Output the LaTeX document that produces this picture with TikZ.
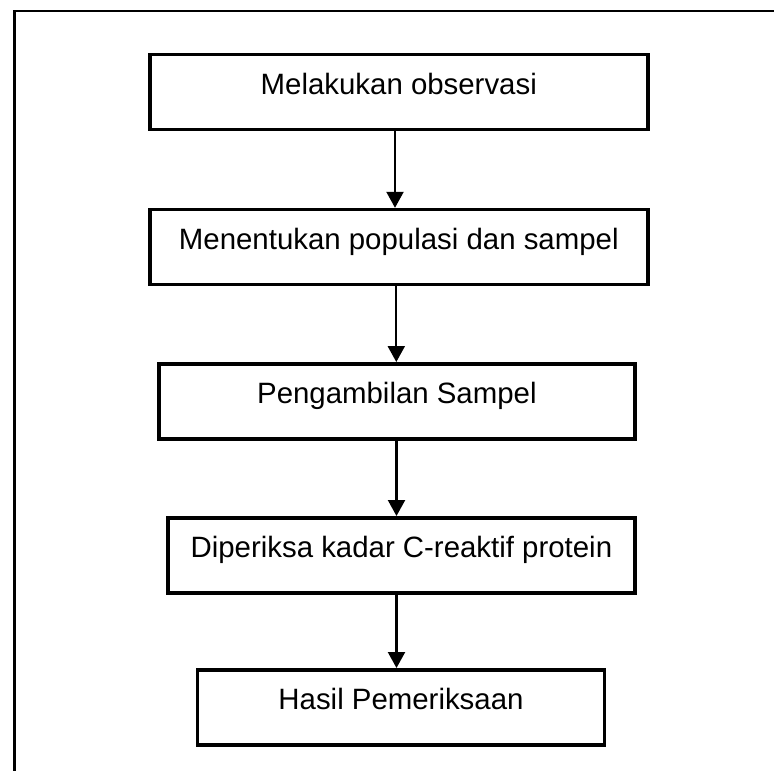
\documentclass[tikz,border=0pt]{standalone}
\usepackage{fontspec}
\setmainfont{Liberation Sans}
\usetikzlibrary{arrows.meta}
\begin{document}
\begin{tikzpicture}[x=1pt,y=-1pt,
  stepbox/.style={draw, line width=3.6pt, inner sep=0pt, text height=40pt, text depth=35pt,
    anchor=north, font=\fontsize{29.4}{35}\selectfont},
  arr/.style={line width=2.2pt, -{Triangle[width=17pt,length=16pt]}},
  frame/.style={line width=2.2pt}]
\useasboundingbox (0,0) rectangle (774,771);
\fill[white] (0,0) rectangle (774,771);
\coordinate (ftop) at (774,11);
\coordinate (fcorner) at (14.5,11);
\coordinate (fbot) at (14.5,771);
\draw[frame] (fbot) -- (fcorner) -- (ftop);
\node[stepbox, minimum width=498pt] (b1) at (398.8,52.8) {Melakukan observasi};
\node[stepbox, minimum width=498pt] (b2) at (398.8,207.8) {Menentukan populasi dan sampel};
\node[stepbox, minimum width=476pt] (b3) at (396.9,362) {Pengambilan Sampel};
\node[stepbox, minimum width=467pt] (b4) at (401.4,516) {Diperiksa kadar C-reaktif protein};
\node[stepbox, minimum width=407pt] (b5) at (401,668) {Hasil Pemeriksaan};
\draw[arr] ([xshift=-3.8pt]b1.south) -- ([xshift=-3.8pt]b1.south |- b2.north);
\draw[arr] ([xshift=-2.5pt]b2.south) -- ([xshift=-2.5pt]b2.south |- b3.north);
\draw[arr] ([xshift=-4.9pt]b4.north |- b3.south) -- ([xshift=-4.9pt]b4.north);
\draw[arr] ([xshift=-4.9pt]b4.south) -- ([xshift=-4.9pt]b4.south |- b5.north);
\end{tikzpicture}
\end{document}
